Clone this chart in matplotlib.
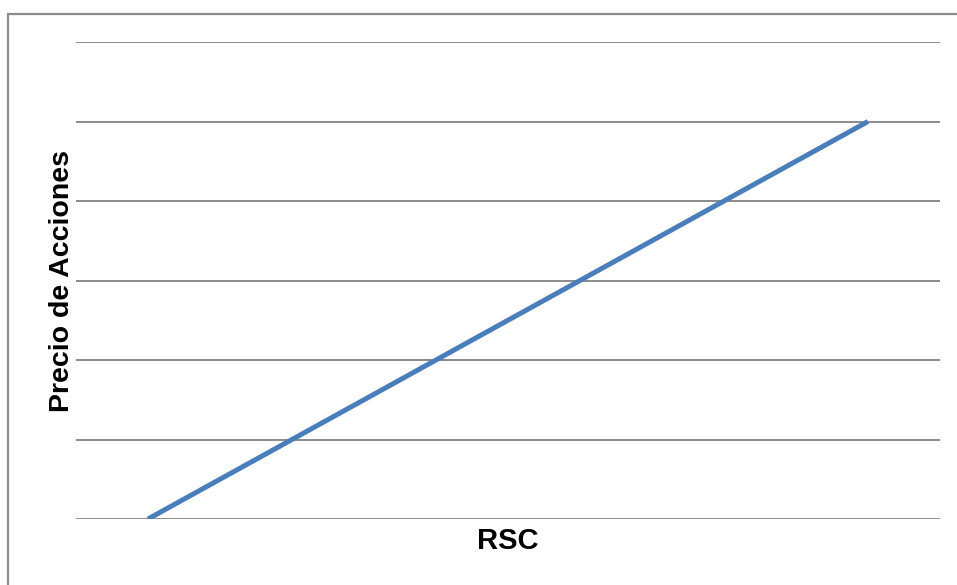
import matplotlib.pyplot as plt
from matplotlib.patches import Rectangle

# RSC levels against share price
rsc = [1, 2, 3, 4, 5, 6]
precio = [0, 1, 2, 3, 4, 5]
y_ticks = [0, 1, 2, 3, 4, 5, 6]

plt.rcParams['font.family'] = ['Liberation Sans', 'DejaVu Sans']

fig = plt.figure(figsize=(9.57, 5.85), dpi=100)
ax = fig.add_axes([0.0794, 0.1128, 0.9028, 0.8154])

# chart-area frame, cut at the right and bottom edges
fig.patches.append(Rectangle((8 / 957, -0.05), 1.1, 1 - 14 / 585 + 0.05,
                             transform=fig.transFigure, fill=False,
                             edgecolor='#8c8c8c', linewidth=1.6))

ax.plot(rsc, precio, color='#4a7ebb', linewidth=3.6, solid_capstyle='butt', zorder=3)

ax.set_xlim(0.5, 6.5)
ax.set_ylim(0, 6)
ax.set_yticks(y_ticks)
ax.set_xticks([])
ax.yaxis.grid(True, color='#8a8a8a', linewidth=1.4)
ax.set_axisbelow(True)
ax.tick_params(axis='y', length=0, labelleft=False)
for s in ax.spines.values():
    s.set_visible(False)

ax.set_xlabel('RSC', fontsize=21, fontweight='bold', labelpad=6)
ax.set_ylabel('Precio de Acciones', fontsize=20.5, fontweight='bold', labelpad=1)

fig.savefig('out.png', dpi=100)
